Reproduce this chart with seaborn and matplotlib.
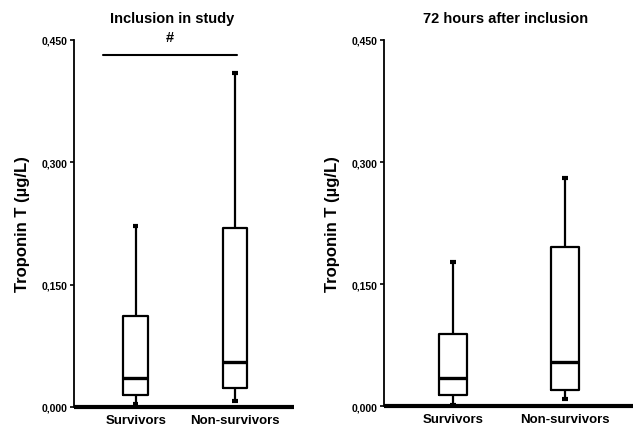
import matplotlib

matplotlib.use("Agg")

import matplotlib.pyplot as plt
import pandas as pd
import seaborn as sns

# Box stats: [min, q1, median, q3, max] (whiskers = min/max)
groups = ["Survivors", "Non-survivors"]
inclusion_survivors = [0.004, 0.015, 0.036, 0.111, 0.222]
inclusion_nonsurvivors = [0.007, 0.023, 0.055, 0.219, 0.409]
h72_survivors = [0.001, 0.014, 0.034, 0.088, 0.177]
h72_nonsurvivors = [0.009, 0.020, 0.054, 0.195, 0.280]

y_ticks = [0.0, 0.15, 0.30, 0.45]
y_tick_labels = ["0,000", "0,150", "0,300", "0,450"]
titles = ["Inclusion in study", "72 hours after inclusion"]
ylabel = "Troponin T (µg/L)"
sig_bar = (-0.33, 1.02, 0.4316)  # x from, x to, y of the "#" bar


def to_frame(surv, nonsurv):
    return pd.DataFrame({
        "group": [groups[0]] * len(surv) + [groups[1]] * len(nonsurv),
        "value": surv + nonsurv,
    })


sns.set_style("ticks")
plt.rcParams["font.family"] = ["Liberation Sans", "DejaVu Sans"]
plt.rcParams["font.weight"] = "bold"
plt.rcParams["text.color"] = "black"
plt.rcParams["axes.labelcolor"] = "black"
plt.rcParams["xtick.color"] = "black"
plt.rcParams["ytick.color"] = "black"
plt.rcParams["axes.edgecolor"] = "black"

fig = plt.figure(figsize=(6.33, 4.27), dpi=100)
ax1 = fig.add_axes([0.1169, 0.0445, 0.3476, 0.8595])
ax2 = fig.add_axes([0.6066, 0.0468, 0.3934, 0.8572])

panels = [
    (ax1, to_frame(inclusion_survivors, inclusion_nonsurvivors), (-0.621, 1.594), 0.448),
    (ax2, to_frame(h72_survivors, h72_nonsurvivors), (-0.616, 1.607), 0.49),
]

for (ax, df, xlim, title_x), title in zip(panels, titles):
    sns.boxplot(
        data=df, x="group", y="value", order=groups, ax=ax,
        whis=(0, 100), width=0.25, fill=False, color="black", linecolor="black",
        showfliers=False, capwidths=0.055,
        boxprops=dict(linewidth=1.6),
        whiskerprops=dict(linewidth=1.6),
        capprops=dict(linewidth=3.0, solid_capstyle="butt"),
        medianprops=dict(linewidth=2.4),
    )
    ax.set_ylim(0, 0.45)
    ax.set_xlim(*xlim)
    ax.set_yticks(y_ticks)
    ax.set_yticklabels(y_tick_labels, family=["Liberation Sans Narrow", "Liberation Sans"],
                       fontsize=7.5, fontweight="bold")
    ax.tick_params(axis="y", length=3, width=1.2, pad=2)
    ax.tick_params(axis="x", length=0, labelsize=9.5, pad=5)
    ax.set_xlabel("")
    ax.set_ylabel(ylabel, fontsize=12, fontweight="bold", labelpad=8)
    ax.set_title(title, fontsize=10.5, fontweight="bold", x=title_x, pad=13)
    sns.despine(ax=ax)
    ax.spines["left"].set_linewidth(1.3)
    ax.spines["bottom"].set_linewidth(3)
    ax.spines["bottom"].set_capstyle("butt")

x0, x1, ybar = sig_bar
ax1.plot([x0, x1], [ybar, ybar], color="black", lw=1.5, clip_on=False)
ax1.text((x0 + x1) / 2, 0.4537, "#", ha="center", va="center", fontsize=10.5,
         fontweight="bold", clip_on=False)

fig.savefig("out.png", dpi=100)
